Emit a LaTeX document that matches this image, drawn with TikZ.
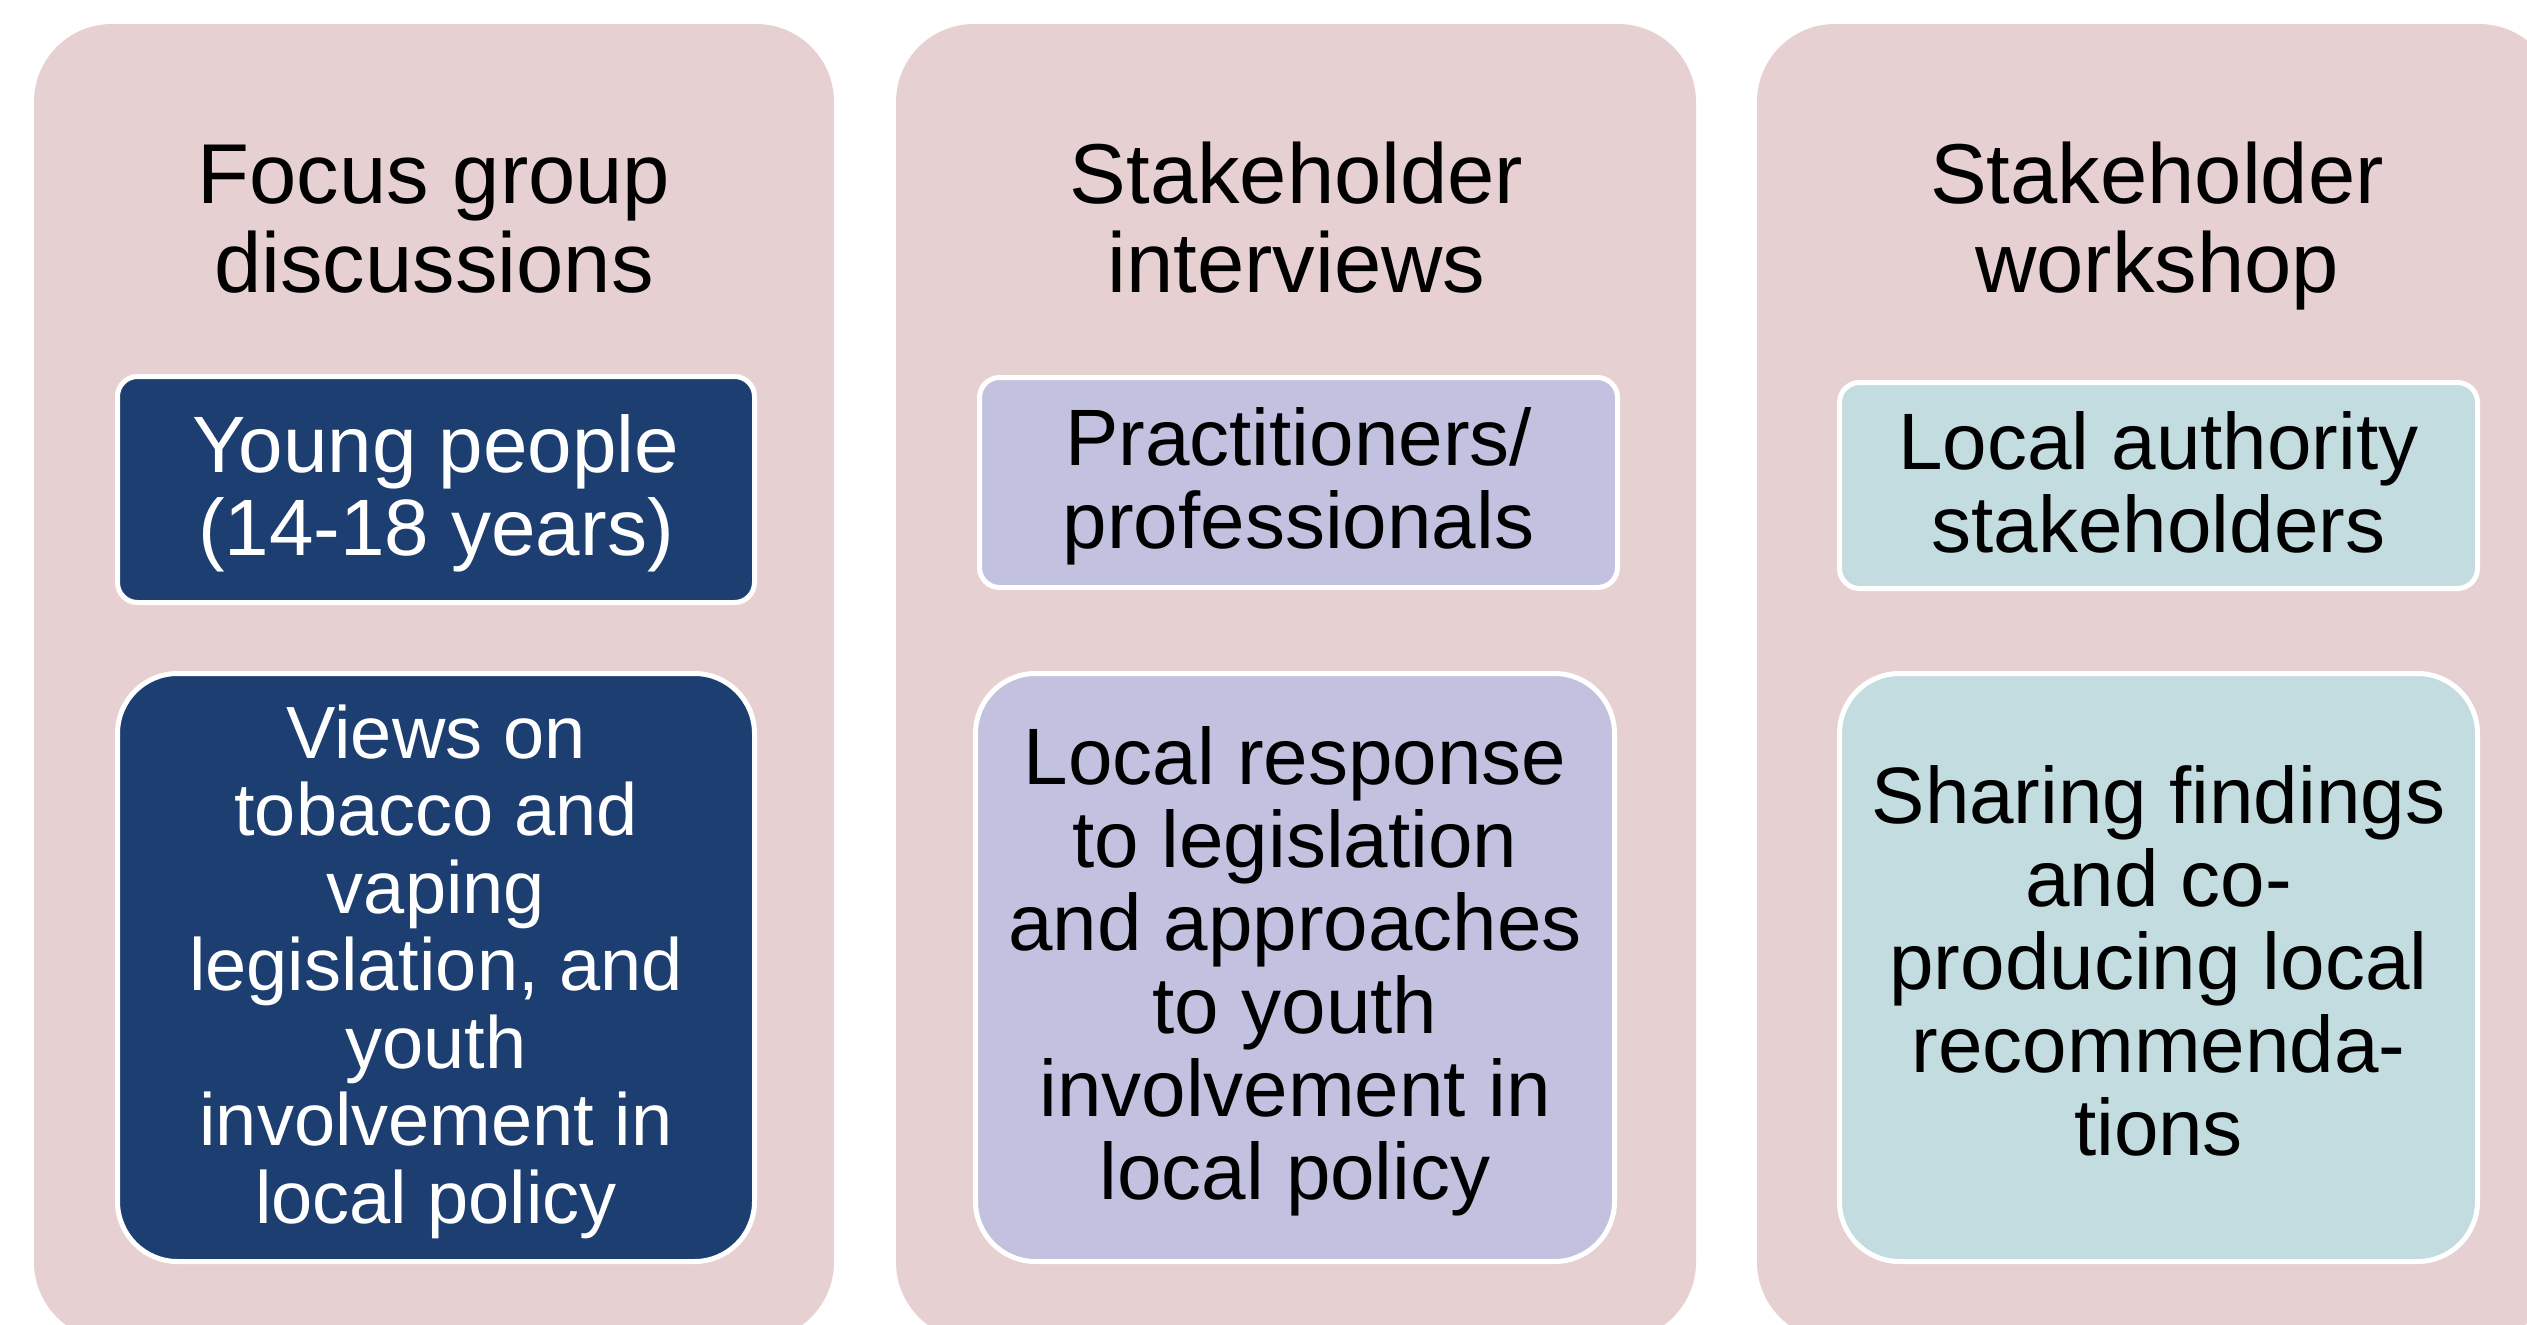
\documentclass[tikz,border=0pt]{standalone}
\usepackage{fontspec}
\setmainfont{Liberation Sans}
\definecolor{panelpink}{RGB}{231,208,209}
\definecolor{navyfill}{RGB}{28,62,113}
\definecolor{lavfill}{RGB}{194,193,224}
\definecolor{tealfill}{RGB}{195,220,223}
\begin{document}
\begin{tikzpicture}[x=1pt,y=-1pt,
  panelbox/.style={fill=panelpink, draw=none, rounded corners=78pt, inner sep=0pt, outer sep=0pt,
    minimum width=800pt, minimum height=1316pt, anchor=north west},
  cardbox/.style={draw=white, line width=5pt, rounded corners=#1, inner sep=0pt, outer sep=0pt},
  titletext/.style={anchor=base, align=center, inner sep=0pt, font=\fontsize{85}{89}\selectfont},
  cardtext/.style={anchor=base, align=center, inner sep=0pt, font=\fontsize{80}{82.5}\selectfont},
  longtext/.style={anchor=base, align=center, inner sep=0pt, font=\fontsize{74}{77.5}\selectfont}
]
\useasboundingbox (0,0) rectangle (2527,1325);
\clip (0,0) rectangle (2527,1325);
\fill[white] (0,0) rectangle (2527,1325);

% panels
\node[panelbox] (p1) at (34,24) {};
\node[panelbox] (p2) at (896,24) {};
\node[panelbox] (p3) at (1757,24) {};

% titles (base = baseline of last line)
\node[titletext] (h1) at (434,292) {Focus group\\discussions};
\node[titletext] (h2) at (1296.5,292) {Stakeholder\\interviews};
\node[titletext] (h3) at (2157,292) {Stakeholder\\workshop};

% upper cards
\node[cardbox=20pt, fill=navyfill, minimum width=637pt, minimum height=226pt] (b1a) at (436,489.5) {};
\node[cardbox=20pt, fill=lavfill, minimum width=638pt, minimum height=210pt] (b2a) at (1298.5,482.5) {};
\node[cardbox=20pt, fill=tealfill, minimum width=638pt, minimum height=206pt] (b3a) at (2158.5,485.5) {};

% lower cards
\node[cardbox=60pt, fill=navyfill, minimum width=637pt, minimum height=588pt] (b1b) at (436,967.5) {};
\node[cardbox=60pt, fill=lavfill, minimum width=639pt, minimum height=588pt] (b2b) at (1295,967.5) {};
\node[cardbox=60pt, fill=tealfill, minimum width=638pt, minimum height=588pt] (b3b) at (2158.5,967.5) {};

% card texts
\node[cardtext, text=white] (t1a) at (436,555) {Young people\\(14-18 years)};
\node[cardtext] (t2a) at (1298.5,548) {Practitioners/\\professionals};
\node[cardtext] (t3a) at (2158.5,552) {Local authority\\stakeholders};

\node[longtext, text=white] (t1b) at (436,1223) {Views on\\tobacco and\\vaping\\legislation, and\\youth\\involvement in\\local policy};
\node[cardtext, font=\fontsize{80}{83}\selectfont] (t2b) at (1295,1199) {Local response\\to legislation\\and approaches\\to youth\\involvement in\\local policy};
\node[cardtext, font=\fontsize{80}{83}\selectfont] (t3b) at (2158.5,1155) {Sharing findings\\and co-\\producing local\\recommenda-\\tions};
\end{tikzpicture}
\end{document}
